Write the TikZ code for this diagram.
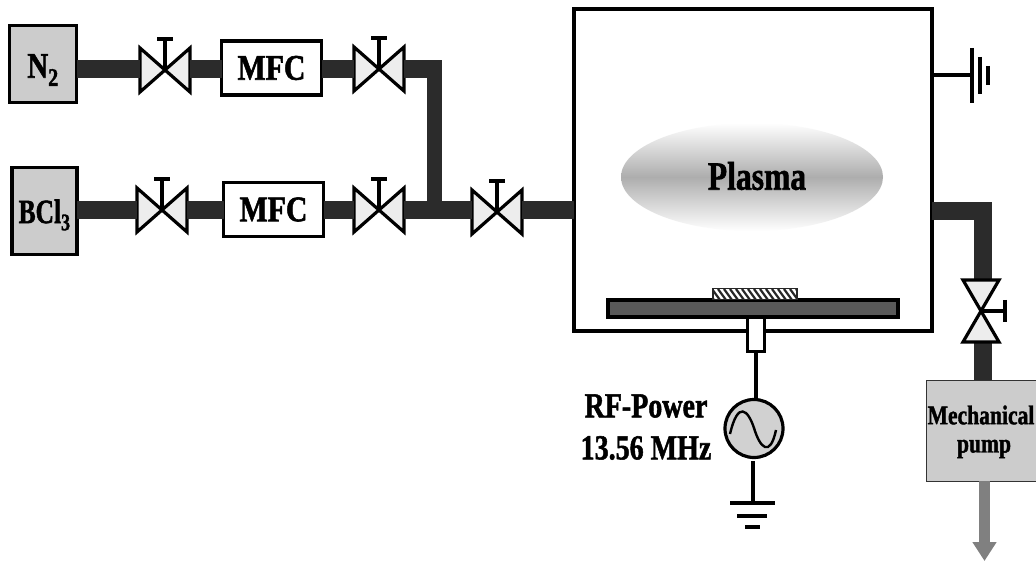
\documentclass[tikz,border=0pt]{standalone}
\usepackage{fontspec}
\setmainfont[BoldFeatures={FakeBold=1.6}]{Liberation Serif}
\usetikzlibrary{calc,arrows.meta,shapes.geometric}
\newcommand{\cond}[2][0.8]{\scalebox{#1}[1]{#2}}
\newcommand{\hvalve}[3]{%
  \node[valvebox] (#1) at (#2,#3) {};
  \draw[valveline] (#1.north west) -- (#1.south east) -- (#1.north east) -- (#1.south west) -- cycle;
  \coordinate (#1h) at ($(#1.center)+(0,-31)$);
  \draw[handle] (#1.center) -- (#1h);
  \draw[handle] ($(#1h)+(-8,0)$) -- ($(#1h)+(8,0)$);
}
\tikzset{
  x=1pt,y=-1pt,
  valvebox/.style={minimum width=50pt,minimum height=44pt,inner sep=0pt,outer sep=0pt},
  valveline/.style={draw=black,line width=3.2pt,fill=black!7,line join=miter},
  handle/.style={draw=black,line width=3.2pt},
  pipe/.style={draw=black!83,line width=18pt},
  thinpipe/.style={draw=black!83,line width=15pt},
  gas/.style={draw=black,line width=3.2pt,fill=black!20,inner sep=0pt,outer sep=0pt},
  mfc/.style={draw=black,line width=3.2pt,fill=white,minimum width=100pt,minimum height=54pt,inner sep=0pt,outer sep=0pt,font=\bfseries\fontsize{36}{38}\selectfont},
  wire/.style={draw=black,line width=3.2pt},
  lab/.style={font=\bfseries\fontsize{35}{38}\selectfont,inner sep=0pt},
  pumplab/.style={font=\bfseries\fontsize{27}{30}\selectfont,inner sep=0pt},
}
\begin{document}
\begin{tikzpicture}
\useasboundingbox (0,0) rectangle (1036,561);
% gas sources
\node[gas,minimum width=67pt,minimum height=77pt] (n2) at (43,64) {};
\node[inner sep=0pt,font=\bfseries\fontsize{36}{38}\selectfont] (n2t) at (43,70) {\cond{N\textsubscript{2}}};
\node[gas,minimum width=65pt,minimum height=87pt] (bcl) at (44.5,211) {};
\node[inner sep=0pt,font=\bfseries\fontsize{34}{36}\selectfont] (bclt) at (44.5,215) {\cond[0.75]{BCl\textsubscript{3}}};
% MFCs
\node[mfc] (mfc1) at (271.5,68) {\cond[0.83]{MFC}};
\node[mfc] (mfc2) at (273.5,209.5) {\cond[0.83]{MFC}};
% valves
\hvalve{v1}{165}{70}
\hvalve{v2}{379}{69}
\hvalve{v3}{162}{210}
\hvalve{v4}{379}{210}
\hvalve{v5}{497}{212}
% chamber
\node[draw=black,line width=3.2pt,fill=white,minimum width=358pt,minimum height=322pt,inner sep=0pt,outer sep=0pt] (ch) at (753,170) {};
\coordinate (chw) at (574,210.5);
\coordinate (che) at (932,211);
\coordinate (chg) at (932,75);
% pipes
\draw[pipe] (n2.east |- 0,69) -- (v1.west |- 0,69);
\draw[pipe] (v1.east |- 0,69) -- (mfc1.west |- 0,69);
\draw[pipe] (mfc1.east |- 0,69) -- (v2.west |- 0,69);
\coordinate (tee) at (434.5,210.5);
\coordinate (corner) at (434.5,69);
\draw[pipe] (v2.east |- corner) -- (442,69);
\draw[thinpipe] (corner) -- (tee);
\draw[pipe] (bcl.east |- 0,210.5) -- (v3.west |- 0,210.5);
\draw[pipe] (v3.east |- 0,210.5) -- (mfc2.west |- 0,210.5);
\draw[pipe] (mfc2.east |- 0,210.5) -- (v4.west |- 0,210.5);
\draw[pipe] (v4.east |- 0,210.5) -- (v5.west |- 0,210.5);
\draw[pipe] (v5.east |- chw) -- (chw);
% exhaust
\node[inner sep=0pt,outer sep=0pt,minimum width=36pt,minimum height=62pt] (v6) at (981,311) {};
\node[draw=black!80,line width=1pt,fill=black!20,minimum width=112pt,minimum height=101pt,inner sep=0pt,outer sep=0pt] (pump) at (982,430.5) {};
\draw[pipe,line join=miter] (che) -- (982.5,211) -- (982.5,280);
\draw[pipe] (982.5,342) -- (982.5,380);
\draw[valveline] (v6.north west) -- (v6.north east) -- (v6.south west) -- (v6.south east) -- cycle;
\coordinate (v6h) at (1005,311);
\draw[handle] (v6.center) -- (v6h);
\draw[handle] ($(v6h)+(0,-11)$) -- ($(v6h)+(0,11)$);
\node[pumplab] (mech) at (981,415) {\cond{Mechanical}};
\node[pumplab] (pl) at (984,449) {\cond{pump}};
\coordinate (out) at (984.5,561);
\coordinate (outtop) at (984.5,481);
\draw[draw=black!50,line width=11pt,-{Triangle[length=19pt,width=23pt]}] (outtop) -- (out);
% ground of the chamber
\coordinate (g1) at (972,75);
\draw[wire] (chg) -- (g1);
\draw[line width=3.6pt] (972,48) -- (972,103);
\draw[line width=3.6pt] (980,57) -- (980,94);
\draw[line width=3.6pt] (988,66) -- (988,85);
% plasma
\node[ellipse,inner sep=0pt,minimum width=262pt,minimum height=108pt,top color=white,bottom color=white,middle color=black!32] (pl2) at (752,177) {};
\node[font=\bfseries\fontsize{40}{42}\selectfont,inner sep=0pt] (plasma) at (757,176) {\cond[0.79]{Plasma}};
% stage
\node[draw=black,line width=3.2pt,fill=black!65,minimum width=290pt,minimum height=17pt,inner sep=0pt,outer sep=0pt] (plate) at (753,308.5) {};
\node[draw=black!85,line width=1.4pt,fill=white,minimum width=84pt,minimum height=11pt,inner sep=0pt,outer sep=0pt] (sub) at (755,294) {};
\begin{scope}
\clip (713,290) rectangle (797,299);
\foreach \hx in {706,712,...,796} \draw[line width=2.2pt,black!85] (\hx,289) -- (\hx+8,300);
\end{scope}
\node[draw=black,line width=3pt,fill=white,minimum width=17pt,minimum height=33pt,inner sep=0pt,outer sep=0pt] (ft) at (756,334.5) {};
% RF source
\node[circle,draw=black,line width=3.2pt,fill=black!18,minimum size=58pt,inner sep=0pt,outer sep=0pt] (rf) at (754,428.5) {};
\draw[wire] (ft.south) -- (ft.south |- rf.north);
\draw[line width=2.4pt] (730,434) .. controls (738,400) and (748,410) .. (754,428) .. controls (760,448) and (770,458) .. (776,430);
\coordinate (g2) at (753,503);
\coordinate (g3) at (753,461);
\draw[wire] (g3) -- (g2);
\draw[line width=3.6pt] (730,503) -- (775,503);
\draw[line width=3.6pt] (737,516) -- (767,516);
\draw[line width=3.6pt] (745,527) -- (760,527);
\node[lab] (rfa) at (646,406) {\cond{RF-Power}};
\node[lab] (rfb) at (646,448) {\cond{13.56 MHz}};
\end{tikzpicture}
\end{document}
